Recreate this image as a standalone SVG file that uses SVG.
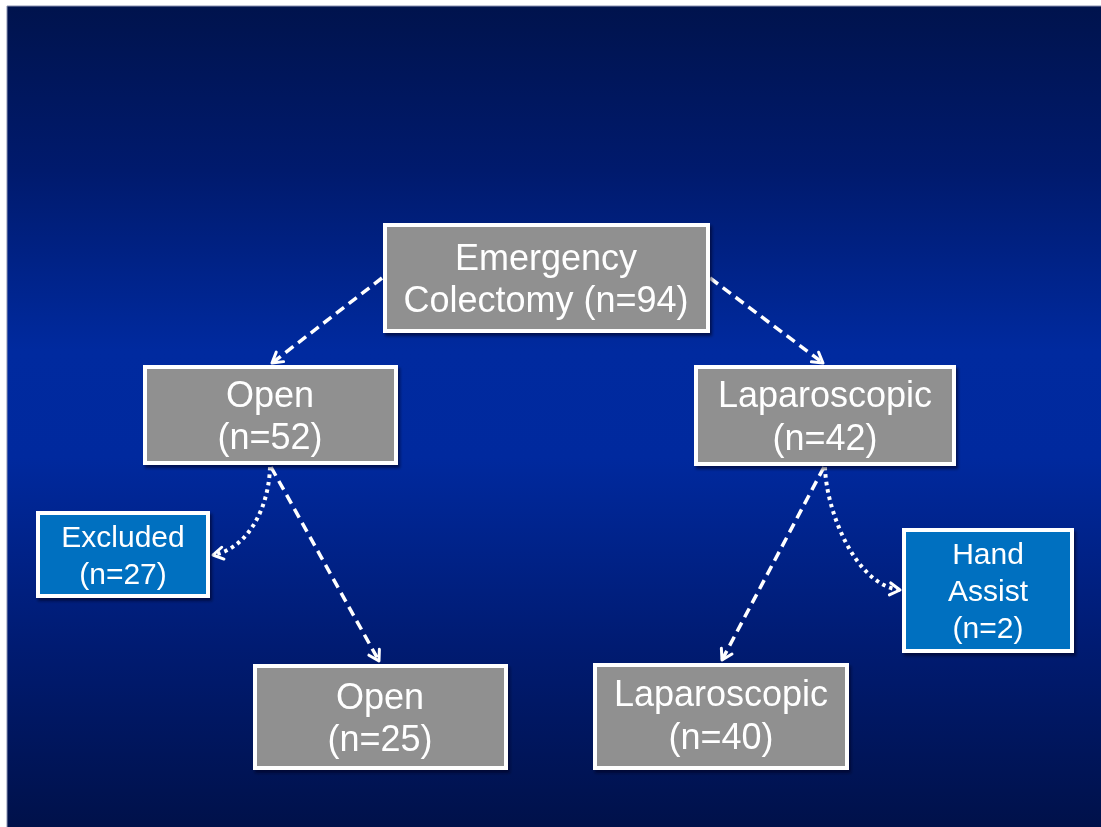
<svg xmlns="http://www.w3.org/2000/svg" width="1101" height="827" viewBox="0 0 1101 827">
<defs>
<linearGradient id="bg" x1="0" y1="0" x2="0" y2="1">
<stop offset="0" stop-color="#00134d"/>
<stop offset="0.2" stop-color="#001a6d"/>
<stop offset="0.42" stop-color="#002a9f"/>
<stop offset="0.55" stop-color="#00299e"/>
<stop offset="0.78" stop-color="#001b72"/>
<stop offset="1" stop-color="#00114a"/>
</linearGradient>
<filter id="sh" x="-10%" y="-10%" width="130%" height="130%">
<feDropShadow dx="2" dy="3" stdDeviation="1.5" flood-color="#000020" flood-opacity="0.6"/>
</filter>
<marker id="ah" markerUnits="userSpaceOnUse" viewBox="0 0 14 14" refX="12" refY="7" markerWidth="14" markerHeight="14" orient="auto" overflow="visible">
<path d="M2,1 L12,7 L2,13" fill="none" stroke="#fff" stroke-width="3" stroke-linecap="round" stroke-linejoin="round"/>
</marker>
</defs>
<style>
.g{fill:#909090;stroke:#fff;stroke-width:4}
.b{fill:#0070c0;stroke:#fff;stroke-width:4}
.t{font-family:"Liberation Sans",Arial,sans-serif;fill:#fff;text-anchor:middle}
.L{font-size:36px}
.S{font-size:30px}
.dash{fill:none;stroke:#fff;stroke-width:3.5;stroke-dasharray:10,6;marker-end:url(#ah)}
.dot{fill:none;stroke:#fff;stroke-width:4;stroke-dasharray:3.5,4;marker-end:url(#ah)}
</style>
<rect x="0" y="0" width="1101" height="827" fill="#fff"/>
<rect x="7" y="6" width="1094" height="821" fill="url(#bg)"/>
<line x1="7" y1="6" x2="7" y2="827" stroke="#8890b0" stroke-width="1"/>
<line x1="7" y1="6" x2="1101" y2="6" stroke="#8890b0" stroke-width="1"/>
<g id="connectors">
<path class="dash" d="M382,278 L272,363"/>
<path class="dash" d="M710,278 L823,363"/>
<path class="dash" d="M271,467 L379,661"/>
<path class="dot" d="M270,467 C269,505 250,548 213,555"/>
<path class="dash" d="M824,467 L722,660"/>
<path class="dot" d="M825,467 C826,510 855,585 900,590"/>
</g>
<g id="n-emergency" filter="url(#sh)">
<rect class="g" x="385" y="225" width="323" height="106"/>
<text class="t L" x="546" y="270">Emergency</text>
<text class="t L" x="546" y="312">Colectomy (n=94)</text>
</g>
<g id="n-open52" filter="url(#sh)">
<rect class="g" x="145" y="367" width="251" height="96"/>
<text class="t L" x="270" y="407">Open</text>
<text class="t L" x="270" y="449">(n=52)</text>
</g>
<g id="n-lap42" filter="url(#sh)">
<rect class="g" x="696" y="367" width="258" height="97"/>
<text class="t L" x="825" y="407">Laparoscopic</text>
<text class="t L" x="825" y="450">(n=42)</text>
</g>
<g id="n-excluded" filter="url(#sh)">
<rect class="b" x="38" y="513" width="170" height="83"/>
<text class="t S" x="123" y="547">Excluded</text>
<text class="t S" x="123" y="584">(n=27)</text>
</g>
<g id="n-hand" filter="url(#sh)">
<rect class="b" x="904" y="530" width="168" height="121"/>
<text class="t S" x="988" y="564">Hand</text>
<text class="t S" x="988" y="601">Assist</text>
<text class="t S" x="988" y="638">(n=2)</text>
</g>
<g id="n-open25" filter="url(#sh)">
<rect class="g" x="255" y="666" width="251" height="102"/>
<text class="t L" x="380" y="709">Open</text>
<text class="t L" x="380" y="751">(n=25)</text>
</g>
<g id="n-lap40" filter="url(#sh)">
<rect class="g" x="595" y="665" width="252" height="103"/>
<text class="t L" x="721" y="706">Laparoscopic</text>
<text class="t L" x="721" y="749">(n=40)</text>
</g>
</svg>
